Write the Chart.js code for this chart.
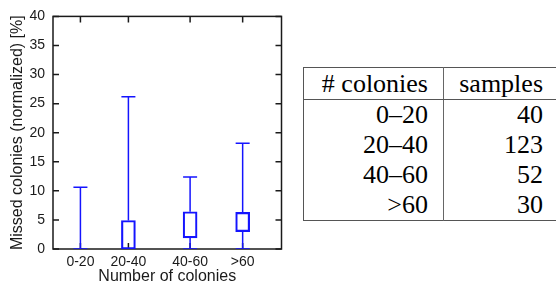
<!DOCTYPE html>
<html>
<head>
<meta charset="utf-8">
<script src="https://cdn.jsdelivr.net/npm/chart.js@4"></script>
<style>
  body { margin: 0; background: #fff; width: 556px; height: 285px; overflow: hidden; position: relative; }
  .plot { position: absolute; left: 0; top: 0; width: 290px; height: 285px; }
  table.samples {
    position: absolute; left: 303px; top: 67px;
    border-collapse: collapse; table-layout: fixed; width: 255px;
    font-family: "Liberation Serif", "DejaVu Serif", serif; font-size: 26px; color: #000;
    border: 1.5px solid #555;
  }
  table.samples td, table.samples th {
    font-weight: normal; text-align: right; padding: 0 15px; height: 30px; line-height: 30px;
  }
  table.samples th { height: 31px; border-bottom: 1.5px solid #555; }
  table.samples .c1 { border-right: 1.5px solid #666; }
</style>
</head>
<body>
<div class="plot"><canvas id="myChart"></canvas></div>
<table class="samples">
  <colgroup><col style="width:140px"><col style="width:115px"></colgroup>
  <thead><tr><th class="c1"># colonies</th><th>samples</th></tr></thead>
  <tbody id="tableBody"></tbody>
</table>
<script>
// box plot data
const categories = ["0-20", "20-40", "40-60", ">60"];
const xPositions = [12, 33, 60, 83];
const whiskerLow = [0, 0, 0, 0];
const boxLow = [0, 0, 1.9, 3.0];
const boxHigh = [0, 4.9, 6.4, 6.3];
const whiskerHigh = [10.6, 26.2, 12.4, 18.2];
const yTicks = [0, 5, 10, 15, 20, 25, 30, 35, 40];

// table next to the plot
const tableRanges = ["0–20", "20–40", "40–60", ">60"];
const tableSamples = [40, 123, 52, 30];

const blue = "#1414ff";

const body = document.getElementById("tableBody");
for (let i = 0; i < tableRanges.length; i++) {
  const tr = document.createElement("tr");
  const a = document.createElement("td");
  a.className = "c1";
  a.textContent = tableRanges[i];
  const b = document.createElement("td");
  b.textContent = tableSamples[i];
  tr.appendChild(a);
  tr.appendChild(b);
  body.appendChild(tr);
}

// whisker segments, split with nulls
let whiskers = [];
for (let i = 0; i < categories.length; i++) {
  whiskers.push({ x: xPositions[i], y: whiskerLow[i] });
  whiskers.push({ x: xPositions[i], y: boxLow[i] });
  whiskers.push({ x: xPositions[i], y: null });
  whiskers.push({ x: xPositions[i], y: boxHigh[i] });
  whiskers.push({ x: xPositions[i], y: whiskerHigh[i] });
  whiskers.push({ x: xPositions[i], y: null });
}
let caps = [];
for (let i = 0; i < categories.length; i++) {
  caps.push({ x: xPositions[i], y: whiskerLow[i] });
  caps.push({ x: xPositions[i], y: whiskerHigh[i] });
}

// frame with inward ticks (gnuplot look)
const frameTicks = {
  id: "frameTicks",
  beforeDatasetsDraw(chart) {
    const { ctx, chartArea, scales } = chart;
    const { left, right, top, bottom } = chartArea;
    ctx.save();
    ctx.strokeStyle = "#1a1a1a";
    ctx.lineWidth = 1.5;
    ctx.strokeRect(left, top, right - left, bottom - top);
    ctx.beginPath();
    scales.y.ticks.forEach((t, i) => {
      const py = scales.y.getPixelForTick(i);
      ctx.moveTo(left, py); ctx.lineTo(left + 6, py);
      ctx.moveTo(right, py); ctx.lineTo(right - 6, py);
    });
    scales.x.ticks.forEach((t, i) => {
      const px = scales.x.getPixelForTick(i);
      ctx.moveTo(px, bottom); ctx.lineTo(px, bottom - 6);
      ctx.moveTo(px, top); ctx.lineTo(px, top + 6);
    });
    ctx.stroke();
    ctx.restore();
  },
};

const chart = new Chart(document.getElementById("myChart"), {
  type: "scatter",
  data: {
    datasets: [
      {
        type: "bar",
        label: "box",
        data: xPositions.map((x, i) => ({ x: x, y: [boxLow[i], boxHigh[i]] })),
        backgroundColor: "rgba(255,255,255,0)",
        borderColor: blue,
        borderWidth: 1.5,
        borderSkipped: false,
        barThickness: 14,
      },
      {
        type: "line",
        label: "whiskers",
        data: whiskers,
        borderColor: blue,
        borderWidth: 1.5,
        pointRadius: 0,
        spanGaps: false,
        fill: false,
      },
      {
        type: "scatter",
        label: "caps",
        data: caps,
        pointStyle: "line",
        pointRadius: 7,
        borderColor: blue,
        borderWidth: 1.5,
      },
    ],
  },
  options: {
    responsive: true,
    maintainAspectRatio: false,
    animation: false,
    layout: { padding: { top: 14, right: 3, left: 0, bottom: 0 } },
    plugins: { legend: { display: false }, tooltip: { enabled: false } },
    scales: {
      x: {
        type: "linear",
        min: 0,
        max: 100,
        offset: false,
        grid: { display: false, drawTicks: false },
        border: { display: false },
        afterBuildTicks: (scale) => {
          scale.ticks = xPositions.map((v) => ({ value: v }));
        },
        afterFit: (scale) => {
          scale.height = 36;
          scale.paddingLeft = 0;
          scale.paddingRight = 0;
        },
        ticks: {
          autoSkip: false,
          maxRotation: 0,
          padding: 5,
          color: "#1a1a1a",
          font: { family: "Liberation Sans", size: 14 },
          callback: (v) => categories[xPositions.indexOf(v)],
        },
        title: {
          display: true,
          text: "Number of colonies",
          color: "#1a1a1a",
          font: { family: "Liberation Sans", size: 16, lineHeight: 1 },
          padding: { top: 0, bottom: 0 },
        },
      },
      y: {
        min: 0,
        max: 40,
        grid: { display: false, drawTicks: false },
        border: { display: false },
        afterBuildTicks: (scale) => {
          scale.ticks = yTicks.map((v) => ({ value: v }));
        },
        afterFit: (scale) => { scale.width = 53; },
        ticks: {
          padding: 8,
          color: "#1a1a1a",
          font: { family: "Liberation Sans", size: 14 },
        },
        title: {
          display: true,
          text: "Missed colonies (normalized) [%]",
          color: "#1a1a1a",
          font: { family: "Liberation Sans", size: 16, lineHeight: 1.2 },
          padding: { top: 8, bottom: 0 },
        },
      },
    },
  },
  plugins: [frameTicks],
});
console.log(JSON.stringify(chart.chartArea));
</script>
</body>
</html>
